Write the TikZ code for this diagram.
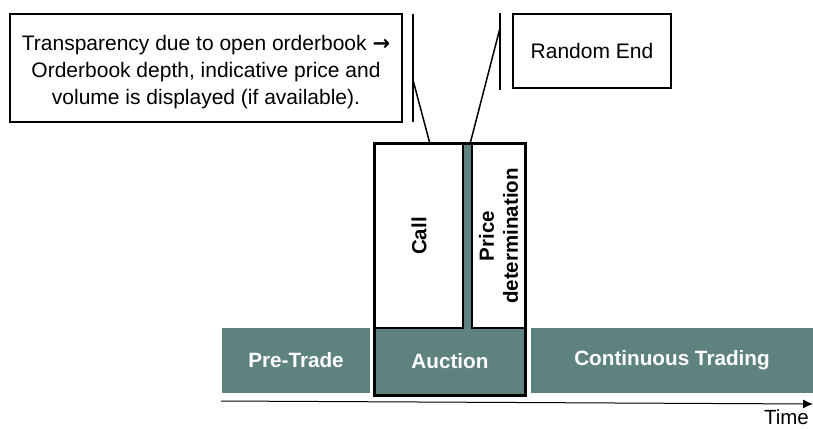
\documentclass[tikz,border=0pt]{standalone}
\usepackage{fontspec}
\setmainfont{Liberation Sans}
\newfontfamily\arrowfont{DejaVu Sans}
\usepackage{xcolor}
\usetikzlibrary{arrows, arrows.meta, positioning}
\definecolor{phasegreen}{RGB}{94,130,126}

\tikzset{
	phase/.style={fill=phasegreen, text=white, inner sep=0pt, font=\fontsize{20.7}{24}\selectfont\bfseries},
	note/.style={draw, line width=1.5pt, inner sep=0pt, align=center, font=\fontsize{21}{27}\selectfont},
	slot/.style={draw, fill=white, line width=1.5pt, inner sep=0pt},
	callout/.style={line width=1.5pt}
}

\begin{document}
\begin{tikzpicture}[x=1pt, y=-1pt]
		\useasboundingbox (0,0) rectangle (813,428);
		\draw (206,68) node[note, minimum width=392pt, minimum height=108pt] (info) {}
		(592,51) node[note, minimum width=158pt, minimum height=74pt] (rend) {Random End}
		(296,360) node[phase, minimum width=148pt, minimum height=65pt] (pre) {Pre-Trade}
		(672,360) node[phase, minimum width=282pt, minimum height=65pt] (cont) {Continuous Trading}
		(450,361.5) node[phase, minimum width=150pt, minimum height=67pt] (auc) {Auction}
		(467.5,236) node[fill=phasegreen, inner sep=0pt, minimum width=9pt, minimum height=184pt] (strip) {}
		(419,236) node[slot, minimum width=88pt, minimum height=184pt] (call) {}
		(498.5,236) node[slot, minimum width=53pt, minimum height=184pt] (price) {};
		
		\node[align=center, inner sep=0pt, font=\fontsize{21}{27}\selectfont] at ([yshift=-4pt]info.center) (infotxt) {Transparency due to open orderbook {\arrowfont\bfseries →}\\ Orderbook depth, indicative price and\\ volume is displayed (if available).};
		\node[rotate=90, font=\fontsize{20.5}{24}\selectfont\bfseries] at (call.center) (calltxt) {Call};
		\node[rotate=90, align=center, font=\fontsize{20.5}{24}\selectfont\bfseries] at (price.center) (pricetxt) {Price\\ determination};
		\draw[line width=3pt] (call.north west) rectangle (auc.south east);
		
		% callouts
		\coordinate (lt) at (413,14);
		\coordinate (lb) at (413,122);
		\coordinate (lk) at (413,80);
		\coordinate (rt) at (500,13);
		\coordinate (rb) at (500,90);
		\coordinate (rk) at (500,28);
		\coordinate (lfoot) at (430,144);
		\coordinate (rfoot) at (470,144);
		\draw[callout] (lt) -- (lb);
		\draw[callout] (lk) -- (lfoot);
		\draw[callout] (rt) -- (rb);
		\draw[callout] (rk) -- (rfoot);
		
		% time axis
		\coordinate (t0) at (221,401);
		\coordinate (t1) at (813,404);
		\draw[-{Latex[length=10pt, width=9pt]}, line width=1pt] (t0) -- (t1);
		\node[anchor=base east, inner sep=0pt, font=\fontsize{20.5}{24}\selectfont] at (809,424) (time) {Time};
	\end{tikzpicture}
\end{document}
